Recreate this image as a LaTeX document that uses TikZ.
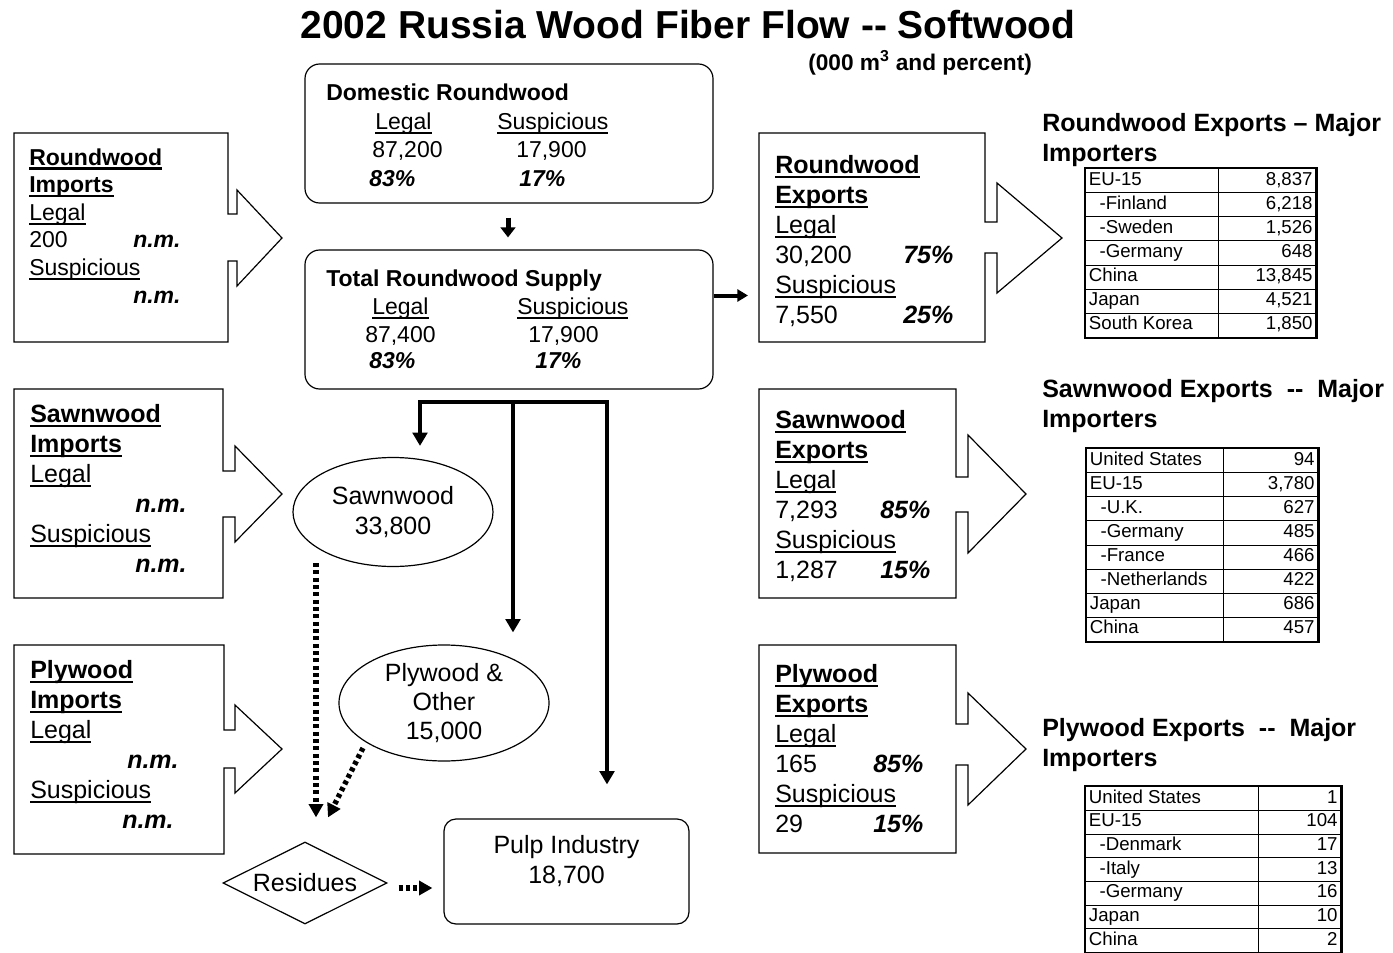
\documentclass[tikz,border=0pt]{standalone}
\usepackage{fontspec}
\setmainfont{Liberation Sans}
\usepackage{array}
\usetikzlibrary{arrows.meta,shapes.geometric,calc,fit}

\setlength\tabcolsep{2pt}
\setlength\arrayrulewidth{0.75pt}

\newcommand\uln[1]{\setbox0\hbox{#1}\rlap{\rule[-.2em]{\wd0}{.08em}}\box0}
\newcommand\ulb[1]{\setbox0\hbox{\bfseries #1}\rlap{\rule[-.21em]{\wd0}{.11em}}\box0}
\newcommand\pct[1]{\textbf{\textit{#1}}}
\newcommand\nm{\pct{n.m.}}
\newcommand\ind{\hspace*{8pt}}
\newcommand\fsa{\fontsize{17.25}{20.7}\selectfont}
\newcommand\fsb{\fontsize{18.75}{22.5}\selectfont}
\newcommand\fell{\fontsize{18.75}{21.9}\selectfont}
\newcommand\fhead{\fontsize{18.75}{22.9}\selectfont\bfseries}
\newcommand\ftab{\fontsize{14}{17.3}\selectfont}

\tikzset{px/.style={x=0.75pt,y=-0.75pt}}
\tikzset{outline/.style={draw=black,line width=0.9pt},
         rbox/.style={outline,rounded corners=11pt,inner sep=0pt},
         area/.style={inner sep=0pt,outer sep=0pt},
         txt/.style={inner sep=0pt,anchor=base west},
         tab/.style={inner sep=0pt,anchor=north west,font=\ftab},
         flow/.style={line width=3pt,-{Triangle[width=11pt,length=10pt]}},
         resid/.style={line width=4pt,dash pattern=on 3pt off 2.5pt,-{Triangle[width=10.5pt,length=10pt]}}}

% right-arrow callout: box node, notch x, tip x, head top, head bottom, shaft top, shaft bottom
\newcommand\callout[7]{%
  \draw[outline] (#1.north west) -- (#1.north east) -- (#1.north east |- 0,#6) -- (#2,#6) -- (#2,#4)
    -- (#3,{(#4+#5)/2}) -- (#2,#5) -- (#2,#7) -- (#1.south east |- 0,#7) -- (#1.south east)
    -- (#1.south west) -- cycle;}

\begin{document}
\begin{tikzpicture}[px]
  \useasboundingbox (0,0) rectangle (1393,953);
  \node[txt,anchor=base,font=\fontsize{29.25}{35}\selectfont\bfseries] (title) at (688,38) {2002 Russia Wood Fiber Flow \hbox{-}\hbox{-} Softwood};
  \node[txt,font=\fontsize{17}{20}\selectfont\bfseries] (unit) at (808,70) {(000 m\textsuperscript{3} and percent)};

  % roundwood supply
  \node[rbox,fit={(305,64) (713,203)}] (dom) {};
  \node[txt,font=\fsa\bfseries] (dom-h) at (326,100) {Domestic Roundwood};
  \node[txt,font=\fsa] (dom-l) at (375,129) {\uln{Legal}};
  \node[txt,font=\fsa] (dom-s) at (497,129) {\uln{Suspicious}};
  \node[txt,font=\fsa] (dom-lv) at (372,157) {87,200};
  \node[txt,font=\fsa] (dom-sv) at (516,157) {17,900};
  \node[txt,font=\fsa] (dom-lp) at (369,186) {\pct{83\%}};
  \node[txt,font=\fsa] (dom-sp) at (519,186) {\pct{17\%}};

  \node[rbox,fit={(305,250) (713,389)}] (sup) {};
  \node[txt,font=\fsa\bfseries] (sup-h) at (326,286) {Total Roundwood Supply};
  \node[txt,font=\fsa] (sup-l) at (372,314) {\uln{Legal}};
  \node[txt,font=\fsa] (sup-s) at (517,314) {\uln{Suspicious}};
  \node[txt,font=\fsa] (sup-lv) at (365,342) {87,400};
  \node[txt,font=\fsa] (sup-sv) at (528,342) {17,900};
  \node[txt,font=\fsa] (sup-lp) at (369,368) {\pct{83\%}};
  \node[txt,font=\fsa] (sup-sp) at (535,368) {\pct{17\%}};

  % imports
  \node[area,fit={(14,133) (228,342)}] (rwimp) {};
  \node[area,fit={(14,389) (223,598)}] (swimp) {};
  \node[area,fit={(14,645) (224,854)}] (plimp) {};
  \callout{rwimp}{237}{282}{190}{286}{214}{261}
  \callout{swimp}{235}{282}{446}{542}{471}{517}
  \callout{plimp}{235}{282}{705}{793}{730}{768}
  \node[txt,font=\fsa] (rwimp-t) at (29,165) {\begin{tabular}[t]{@{}l@{}}\ulb{Roundwood}\\\ulb{Imports}\\\uln{Legal}\\\makebox[78pt][l]{200}\nm\\\uln{Suspicious}\\\hspace*{78pt}\nm\end{tabular}};
  \node[txt,font=\fsb] (swimp-t) at (30,422) {\begin{tabular}[t]{@{}l@{}}\ulb{Sawnwood}\\\ulb{Imports}\\\uln{Legal}\\\hspace*{78.75pt}\nm\\\uln{Suspicious}\\\hspace*{78.75pt}\nm\end{tabular}};
  \node[txt,font=\fsb] (plimp-t) at (30,678) {\begin{tabular}[t]{@{}l@{}}\ulb{Plywood}\\\ulb{Imports}\\\uln{Legal}\\\hspace*{72.75pt}\nm\\\uln{Suspicious}\\\hspace*{69pt}\nm\end{tabular}};

  % exports
  \node[area,fit={(759,133) (985,342)}] (rwexp) {};
  \node[area,fit={(759,389) (956,598)}] (swexp) {};
  \node[area,fit={(759,645) (956,853)}] (plexp) {};
  \callout{rwexp}{997}{1062}{183}{293}{222}{253}
  \callout{swexp}{968}{1026}{435}{553}{477}{512}
  \callout{plexp}{968}{1026}{693}{805}{724}{765}
  \node[txt,font=\fsb] (rwexp-t) at (775,173) {\begin{tabular}[t]{@{}l@{}}\ulb{Roundwood}\\\ulb{Exports}\\\uln{Legal}\\\makebox[96pt][l]{30,200}\pct{75\%}\\\uln{Suspicious}\\\makebox[96pt][l]{7,550}\pct{25\%}\end{tabular}};
  \node[txt,font=\fsb] (swexp-t) at (775,428) {\begin{tabular}[t]{@{}l@{}}\ulb{Sawnwood}\\\ulb{Exports}\\\uln{Legal}\\\makebox[78.75pt][l]{7,293}\pct{85\%}\\\uln{Suspicious}\\\makebox[78.75pt][l]{1,287}\pct{15\%}\end{tabular}};
  \node[txt,font=\fsb] (plexp-t) at (775,682) {\begin{tabular}[t]{@{}l@{}}\ulb{Plywood}\\\ulb{Exports}\\\uln{Legal}\\\makebox[73.5pt][l]{165}\pct{85\%}\\\uln{Suspicious}\\\makebox[73.5pt][l]{29}\pct{15\%}\end{tabular}};

  % major importers
  \node[txt,font=\fhead] (rwhead) at (1042,131) {\begin{tabular}[t]{@{}l@{}}Roundwood Exports -- Major\\Importers\end{tabular}};
  \node[txt,font=\fhead] (swhead) at (1042,397) {\begin{tabular}[t]{@{}l@{}}Sawnwood Exports\ \ \hbox{-}\hbox{-}\ \ Major\\Importers\end{tabular}};
  \node[txt,font=\fhead] (plhead) at (1042,736) {\begin{tabular}[t]{@{}l@{}}Plywood Exports\ \ \hbox{-}\hbox{-}\ \ Major\\Importers\end{tabular}};
  \node[tab] (rwtab) at (1085,168) {\begin{tabular}{|p{95pt}|>{\raggedleft\arraybackslash}p{68pt}|}\hline
    EU-15 & 8,837\\\hline \ind-Finland & 6,218\\\hline \ind-Sweden & 1,526\\\hline \ind-Germany & 648\\\hline
    China & 13,845\\\hline Japan & 4,521\\\hline South Korea & 1,850\\\hline\end{tabular}};
  \node[tab] (swtab) at (1086,448) {\begin{tabular}{|p{98pt}|>{\raggedleft\arraybackslash}p{65.75pt}|}\hline
    United States & 94\\\hline EU-15 & 3,780\\\hline \ind-U.K. & 627\\\hline \ind-Germany & 485\\\hline
    \ind-France & 466\\\hline \ind-Netherlands & 422\\\hline Japan & 686\\\hline China & 457\\\hline\end{tabular}};
  \node[tab,font=\fontsize{14}{17}\selectfont] (pltab) at (1085,786) {\begin{tabular}{|p{125pt}|>{\raggedleft\arraybackslash}p{56.75pt}|}\hline
    United States & 1\\\hline EU-15 & 104\\\hline \ind-Denmark & 17\\\hline \ind-Italy & 13\\\hline
    \ind-Germany & 16\\\hline Japan & 10\\\hline China & 2\\\hline\end{tabular}};
  \foreach \t in {rwtab,swtab,pltab}
    \draw[line width=1.5pt] (\t.north west) rectangle (\t.south east);

  % processing
  \node[ellipse,outline,minimum width=150pt,minimum height=81.75pt,inner sep=0pt,align=center,font=\fell] (sawn) at (393,512) {Sawnwood\\33,800};
  \node[ellipse,outline,minimum width=157.5pt,minimum height=87pt,inner sep=0pt,align=center,font=\fell] (ply) at (444,703) {Plywood \&\\Other\\15,000};
  \node[diamond,outline,shape aspect=2,minimum width=123pt,minimum height=61.5pt,inner sep=0pt,font=\fell] (res) at (305,883) {Residues};
  \node[rbox,rounded corners=9pt,minimum width=183.75pt,minimum height=78.75pt] (pulp) at (566.5,871.5) {};
  \node[align=center,inner sep=0pt,font=\fell] (pulp-t) at (566.5,861) {Pulp Industry\\18,700};

  % flows
  \draw[flow,line width=3.75pt,-{Triangle[width=11pt,length=7.5pt]}] ($(dom.south)+(-1,14)$) -- ($(sup.north)+(-1,-12)$);
  \draw[flow,-{Triangle[width=9pt,length=8pt]}] ($(sup.east)+(0,-24)$) -- ($(sup.east -| rwexp.west)+(-11,-24)$);
  \coordinate (fork) at ($(sup.south)+(4,12)$);
  \draw[flow] (fork) -| ($(sawn.north)+(27,-11)$);
  \draw[flow] (fork) -- ($(ply.north)+(69,-12)$);
  \draw[flow] (fork) -| ($(pulp.north)+(40.5,-34)$);
  \draw[resid] ($(sawn.south)+(-77,-4)$) -- ($(res.north)+(11,-24)$);
  \draw[resid] ($(ply.center)+(-81,45)$) -- ($(res.north)+(23,-24)$);
  \draw[resid] ($(res.east)+(11,5)$) -- ($(pulp.west)+(-11,16.5)$);
\end{tikzpicture}
\end{document}
